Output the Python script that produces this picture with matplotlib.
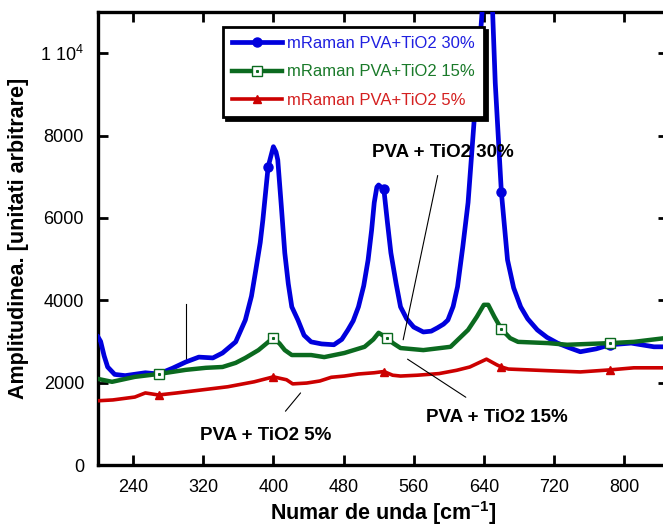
import numpy as np
import matplotlib
matplotlib.use('Agg')
import matplotlib.pyplot as plt
from matplotlib.legend_handler import HandlerTuple

plt.rcParams['font.family'] = ['Liberation Sans', 'DejaVu Sans']
plt.rcParams['mathtext.fontset'] = 'custom'
plt.rcParams['mathtext.rm'] = 'Liberation Sans'
plt.rcParams['mathtext.bf'] = 'Liberation Sans:bold'

# %% data
x_30 = [200, 203, 207, 211, 219, 231, 254, 269, 285, 300, 315, 331, 342, 357,
        368, 375, 380, 385, 388, 394, 400, 403, 405, 409, 413, 417, 421, 428,
        435, 443, 455, 469, 478, 485, 491, 497, 503, 508, 512, 515, 518, 520,
        526, 530, 534, 540, 545, 552, 560, 571, 580, 587, 594, 599, 605, 610,
        616, 622, 629, 638, 645, 650, 653, 660, 667, 674, 682, 690, 701, 712,
        724, 737, 750, 768, 784, 808, 834, 850]
y_30 = [3110, 3000, 2650, 2380, 2200, 2170, 2240, 2210, 2350, 2500, 2620, 2600,
        2720, 2990, 3520, 4100, 4740, 5400, 5950, 7240, 7730, 7600, 7410, 6300,
        5150, 4400, 3840, 3520, 3150, 2990, 2940, 2920, 3050, 3280, 3500, 3840,
        4350, 4980, 5700, 6370, 6750, 6800, 6690, 5900, 5150, 4400, 3840, 3550,
        3350, 3230, 3250, 3330, 3420, 3520, 3850, 4330, 5300, 6370, 8380, 11000,
        12800, 11000, 9280, 6620, 4980, 4300, 3840, 3550, 3280, 3100, 2960, 2850,
        2750, 2820, 2920, 2960, 2870, 2870]
mk_30 = [269, 394, 526, 660, 784]

x_15 = [200, 216, 242, 269, 300, 323, 342, 357, 368, 383, 400, 407, 413, 421,
        443, 458, 481, 504, 514, 520, 529, 537, 545, 571, 602, 622, 632, 640,
        645, 652, 660, 670, 679, 713, 735, 784, 811, 850]
y_15 = [2090, 2020, 2140, 2210, 2310, 2360, 2380, 2480, 2600, 2790, 3090, 2950,
        2790, 2670, 2670, 2620, 2720, 2870, 3050, 3210, 3090, 2950, 2840, 2790,
        2870, 3280, 3600, 3890, 3890, 3600, 3300, 3080, 2990, 2960, 2920, 2960,
        2990, 3090]
mk_15 = [269, 400, 529, 660, 784]

x_5 = [200, 217, 242, 254, 269, 290, 317, 348, 378, 400, 415, 422, 438, 453,
       466, 481, 497, 515, 526, 536, 545, 564, 589, 609, 624, 631, 643, 655,
       660, 668, 713, 750, 784, 811, 850]
y_5 = [1560, 1580, 1650, 1750, 1700, 1750, 1820, 1900, 2020, 2140, 2070, 1970,
       1990, 2040, 2130, 2160, 2210, 2240, 2270, 2180, 2160, 2180, 2220, 2300,
       2380, 2450, 2570, 2430, 2380, 2330, 2290, 2260, 2310, 2360, 2360]
mk_5 = [269, 400, 526, 660, 784]

labels = ['mRaman PVA+TiO2 30%', 'mRaman PVA+TiO2 15%', 'mRaman PVA+TiO2 5%']
xticks = [240, 320, 400, 480, 560, 640, 720, 800]
yticks = [0, 2000, 4000, 6000, 8000, 10000]
ytick_labels = ['0', '2000', '4000', '6000', '8000', r'1 10$^4$']

# %%
def marks(x, mk):
    return list(np.nonzero(np.isin(x, mk))[0])

blue, green, red = '#0000dd', '#0b6a1f', '#cc0000'

fig = plt.figure(figsize=(6.63, 5.29), dpi=100)
ax = fig.add_axes([98/663, 64/529, 570/663, 453/529])

l1, = ax.plot(x_30, y_30, color=blue, lw=3.4, marker='o', ms=6.5,
              markevery=marks(x_30, mk_30), solid_joinstyle='round', zorder=3)
l2, = ax.plot(x_15, y_15, color=green, lw=3.2, marker='s', ms=6.5, mfc='white',
              mec=green, mew=1.0, markevery=marks(x_15, mk_15),
              solid_joinstyle='round', zorder=4)
i15 = marks(x_15, mk_15)
d2, = ax.plot(np.array(x_15)[i15], np.array(y_15)[i15],
              ls='none', marker='s', ms=1.2, color=green, zorder=5)
l3, = ax.plot(x_5, y_5, color=red, lw=2.6, marker='^', ms=5.5,
              markevery=marks(x_5, mk_5), zorder=3)

ax.set_xlim(200, 850)
ax.set_ylim(0, 11000)
ax.set_xticks(xticks)
ax.set_yticks(yticks)
ax.set_yticklabels(ytick_labels)
ax.tick_params(direction='in', length=7, width=2, labelsize=13, pad=10,
               top=True, right=True)
for s in ax.spines.values():
    s.set_linewidth(2.4)

ax.set_xlabel(r'Numar de unda [cm$^{\mathbf{-1}}$]', fontsize=15.5,
              fontweight='bold', labelpad=2)
ax.set_ylabel('Amplitudinea. [unitati arbitrare]', fontsize=15.5,
              fontweight='bold', labelpad=8)

# annotations
ax.annotate('PVA + TiO2 30%', xy=(548, 3040), xytext=(593, 7600),
            fontsize=13.5, fontweight='bold', ha='center', va='center',
            arrowprops=dict(arrowstyle='-', lw=0.8, color='k', shrinkA=9, shrinkB=0))
ax.annotate('PVA + TiO2 15%', xy=(553, 2570), xytext=(655, 1150),
            fontsize=13.5, fontweight='bold', ha='center', va='center',
            arrowprops=dict(arrowstyle='-', lw=0.8, color='k', shrinkA=12, shrinkB=0))
ax.annotate('PVA + TiO2 5%', xy=(431, 1750), xytext=(391, 720),
            fontsize=13.5, fontweight='bold', ha='center', va='center',
            arrowprops=dict(arrowstyle='-', lw=0.8, color='k', shrinkA=12, shrinkB=0))
ax.plot([300, 300], [2500, 3910], color='k', lw=0.8)

leg = ax.legend([l1, (l2, d2), l3], labels, loc='upper left',
                bbox_to_anchor=(0.219, 0.967), borderaxespad=0, fontsize=12,
                handlelength=3.0, handletextpad=0.3, labelspacing=0.8,
                borderpad=0.55, fancybox=False, framealpha=1, edgecolor='k',
                shadow={'color': 'k', 'alpha': 1},
                handler_map={tuple: HandlerTuple(ndivide=1)})
leg.get_frame().set_linewidth(2)
for t, c in zip(leg.get_texts(), ['#2020e0', '#1a7a2a', '#d42020']):
    t.set_color(c)

fig.savefig('out.png', dpi=100)
